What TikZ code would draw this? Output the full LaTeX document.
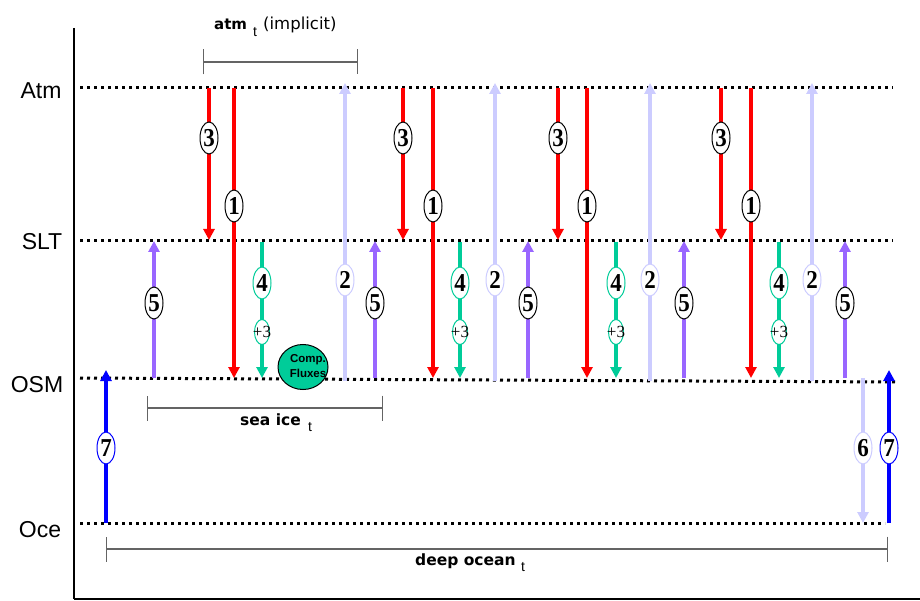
\documentclass[tikz,border=0pt]{standalone}
\usepackage{fontspec}
\usepackage{graphicx}
\setmainfont{Liberation Sans}
\newfontfamily\serifnum{Liberation Serif}
\newfontfamily\comicish{DejaVu Sans}
\usetikzlibrary{arrows.meta,shapes.geometric}
\definecolor{fluxred}{RGB}{255,0,0}
\definecolor{fluxgreen}{RGB}{0,204,153}
\definecolor{fluxlav}{RGB}{204,204,255}
\definecolor{fluxpurple}{RGB}{153,102,255}
\definecolor{fluxblue}{RGB}{0,0,255}
\definecolor{brgray}{RGB}{100,100,100}
\newcommand{\mydigit}[1]{\makebox[0pt]{\scalebox{1}[1.12]{#1}}}
\begin{document}
\begin{tikzpicture}[x=1pt,y=-1pt,
  lvline/.style={line width=3pt,dash pattern=on 3pt off 4pt},
  flux/.style={-{Triangle[width=11pt,length=11pt]}},
  redflux/.style={flux,draw=fluxred,line width=3.3pt},
  greenflux/.style={flux,draw=fluxgreen,line width=3.3pt},
  lavflux/.style={flux,draw=fluxlav,line width=4.5pt},
  purpflux/.style={flux,draw=fluxpurple,line width=3.3pt},
  blueflux/.style={flux,draw=fluxblue,line width=4.3pt},
  lbl/.style={ellipse,draw,fill=white,inner sep=0pt,minimum width=18pt,minimum height=32pt,line width=1pt,font=\serifnum\bfseries\fontsize{23}{23}\selectfont},
  smalllbl/.style={ellipse,draw=fluxgreen,fill=white,inner sep=0pt,minimum width=15pt,minimum height=25pt,line width=1pt,font=\serifnum\fontsize{17}{17}\selectfont},
  levtext/.style={inner sep=0pt,font=\fontsize{23}{23}\selectfont},
  bracket/.style={draw=brgray,line width=1.3pt,{Bar[width=25pt]}-{Bar[width=25pt]}},
  brtext/.style={inner sep=0pt,anchor=base west,font=\comicish\bfseries\fontsize{15.5}{15.5}\selectfont},
  subt/.style={inner sep=0pt,anchor=base west,font=\fontsize{14}{14}\selectfont},
]
\useasboundingbox (0,0) rectangle (920,601);

% axes
\coordinate (axtop) at (74,28);
\coordinate (axcorner) at (74,599);
\coordinate (axright) at (920,599);
\draw[line width=1.7pt] (axtop) -- (axcorner);
\draw[line width=2.3pt] (axcorner) -- (axright);

% level labels
\node[levtext] (tAtm) at (41,91) {Atm};
\node[levtext] (tSLT) at (42,242) {SLT};
\node[levtext] (tOSM) at (37,385) {OSM};
\node[levtext] (tOce) at (40,530) {Oce};

% dotted levels
\coordinate (atmL) at (80,88);  \coordinate (atmR) at (893,88);
\coordinate (sltL) at (80,241); \coordinate (sltR) at (893,241);
\coordinate (osmL) at (80,378); \coordinate (osmR) at (898,382);
\coordinate (oceL) at (80,523); \coordinate (oceR) at (885,523);
\draw[lvline] (atmL) -- (atmR);
\draw[lvline] (sltL) -- (sltR);
\draw[lvline] (osmL) -- (osmR);
\draw[lvline] (oceL) -- (oceR);

% brackets
\coordinate (bAtmL) at (203,62); \coordinate (bAtmR) at (358,62);
\draw[bracket] (bAtmL) -- (bAtmR);
\node[brtext,font=\comicish\bfseries\fontsize{15}{15}\selectfont] (atmword) at (214,30) {atm};
\node[subt] (atmsub) at (253,37) {t};
\node[inner sep=0pt,anchor=base west,font=\comicish\fontsize{16.5}{16.5}\selectfont] (implicit) at (263,30) {(implicit)};

\coordinate (bIceL) at (147,408); \coordinate (bIceR) at (383,408);
\draw[bracket] (bIceL) -- (bIceR);
\node[brtext] (iceword) at (240,425) {sea ice};
\node[subt] (icesub) at (308,431) {t};

\coordinate (bOceL) at (106,549); \coordinate (bOceR) at (888,549);
\draw[bracket] (bOceL) -- (bOceR);
\node[brtext] (oceword) at (415,565) {deep ocean};
\node[subt] (ocesub) at (521,571) {t};

% flux groups
\foreach \xa/\xb/\xc/\xd [count=\i] in {209/234/262/345, 403/433/460/495, 558/587/616/650, 721/751/779/812}{
  \coordinate (r3top\i) at (\xa,88);
  \coordinate (r3bot\i) at (\xa,240);
  \draw[redflux] (r3top\i) -- (r3bot\i);
  \coordinate (r1top\i) at (\xb,88);
  \coordinate (r1bot\i) at (\xb,378);
  \draw[redflux] (r1top\i) -- (r1bot\i);
  \coordinate (g4top\i) at (\xc,242);
  \coordinate (g4bot\i) at (\xc,378);
  \draw[greenflux] (g4top\i) -- (g4bot\i);
  \coordinate (l2bot\i) at (\xd,381);
  \coordinate (l2top\i) at (\xd,83);
  \draw[lavflux] (l2bot\i) -- (l2top\i);
}
\foreach \xp [count=\i] in {154,375,528,684,845}{
  \coordinate (p5bot\i) at (\xp,378);
  \coordinate (p5top\i) at (\xp,241);
  \draw[purpflux] (p5bot\i) -- (p5top\i);
}
% ocean exchanges
\coordinate (b7bot1) at (106,523); \coordinate (b7top1) at (106,370);
\draw[blueflux] (b7bot1) -- (b7top1);
\coordinate (b7bot2) at (889,523); \coordinate (b7top2) at (889,370);
\draw[blueflux] (b7bot2) -- (b7top2);
\coordinate (l6top) at (863,378); \coordinate (l6bot) at (863,523);
\draw[lavflux] (l6top) -- (l6bot);

% labels
\foreach \xa/\xb/\xc/\xd [count=\i] in {209/234/262/345, 403/433/460/495, 558/587/616/650, 721/751/779/812}{
  \node[lbl] (three\i) at (\xa,138) {\mydigit{3}};
  \node[lbl] (one\i) at (\xb,206) {\mydigit{1}};
  \node[lbl,draw=fluxgreen] (four\i) at (\xc,283) {\mydigit{4}};
  \node[smalllbl] (plusthree\i) at (\xc,332) {\makebox[0pt]{+3}};
  \node[lbl,draw=fluxlav] (two\i) at (\xd,280) {\mydigit{2}};
}
\foreach \xp [count=\i] in {154,375,528,684,845}{
  \node[lbl] (five\i) at (\xp,303) {\mydigit{5}};
}
\node[lbl,draw=fluxblue] (seven1) at (106,448) {\mydigit{7}};
\node[lbl,draw=fluxblue] (seven2) at (889,448) {\mydigit{7}};
\node[lbl,draw=fluxlav] (six) at (863,448) {\mydigit{6}};

% computed fluxes
\node[ellipse,draw,fill=fluxgreen,line width=1pt,minimum width=50pt,minimum height=45pt,inner sep=0pt] (comp) at (303,367) {};
\node[inner sep=0pt,align=center,font=\bfseries\fontsize{11.5}{14.5}\selectfont] (comptext) at (308,366) {Comp.\\Fluxes};
\end{tikzpicture}
\end{document}
